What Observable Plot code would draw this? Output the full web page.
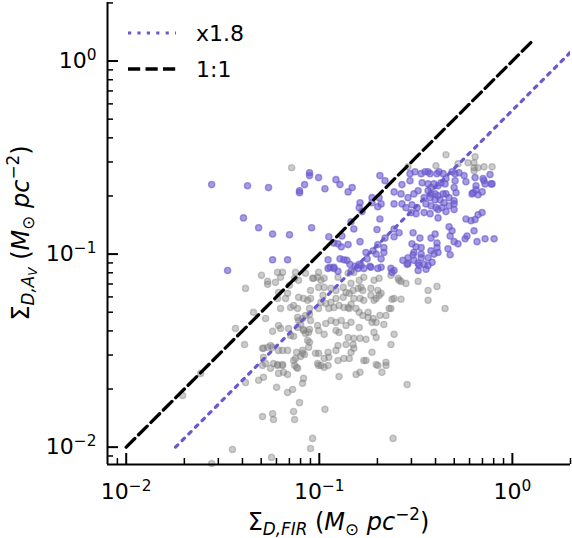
<!DOCTYPE html>
<html><head><meta charset="utf-8">
<script src="https://cdn.jsdelivr.net/npm/d3@7"></script>
<script src="https://cdn.jsdelivr.net/npm/@observablehq/plot@0.6"></script>
<style>html,body{margin:0;padding:0;background:#fff;} #chart{width:572px;height:538px;}</style>
</head><body><div id="chart"></div>
<script>
// ---- data ----
const grayFIR = [0.0719,0.288,0.402,0.453,0.523,0.589,0.633,0.641,0.633,0.664,0.713,0.785,0.633,
0.0502,0.0540,0.0540,0.0608,0.0645,0.0630,0.0593,0.0753,0.0745,0.0701,0.0415,0.0615,0.0608,0.0669,0.0685,0.0781,0.0829,0.0901,0.0923,0.0980,0.0992,0.0901,0.0781,0.0849,0.0992,0.0934,
0.0772,0.0736,0.0710,0.0870,0.0890,0.0992,0.102,0.0630,0.0456,0.0527,0.0772,0.0781,0.0819,0.0849,0.0890,0.0901,0.0980,0.0992,0.0772,0.0800,0.0829,0.0890,0.0615,0.0630,0.0573,0.0693,0.0710,0.0736,0.0849,0.0870,0.0368,0.0410,0.0514,0.0559,0.0573,0.0615,0.0645,0.0685,0.0763,0.0839,0.0890,0.0880,0.0514,0.0608,0.0645,0.0736,0.0745,0.0980,0.0508,0.0540,0.0753,0.0772,0.0800,0.0819,0.0880,0.0992,0.102,0.0819,0.0956,0.0829,0.0579,0.0559,0.0527,
0.0196,0.0243,0.0355,0.0277,0.0415,0.0485,0.0514,0.0508,0.0608,0.0645,0.0763,0.0615,0.0653,0.0685,0.0601,0.0685,0.0727,0.0819,0.0829,0.0790,0.0508,0.0573,0.0579,0.0736,0.0745,0.107,0.0923,0.0901,0.0566,0.0992,0.106,0.1265,0.155,0.1625,0.201,0.211,0.2215,0.285,0.241,
0.102,0.106,0.125,0.141,0.151,0.170,0.192,0.204,0.235,0.256,0.265,0.281,0.325,0.407,0.106,0.115,0.1045,0.122,0.133,0.1375,0.143,0.1495,0.159,0.1645,0.185,0.201,0.204,0.185,0.192,0.197,0.1625,0.151,0.170,0.238,0.265,0.366,0.235,0.448,0.122,0.115,0.108,0.112,0.119,0.1265,0.134,0.143,0.146,0.155,0.161,0.168,0.179,0.190,0.197,0.206,0.216,0.1875,0.161,0.146,0.1375,0.130,0.122,0.115,0.108,0.106,0.122,0.1265,0.141,0.151,0.1625,0.1745,0.192,0.197,0.244,0.1375,0.1495,0.151,0.146,0.125,0.122,0.111,0.1875,0.170,0.125,0.134,0.106,0.111,0.197,0.2215,0.235,0.168,0.209,0.259,0.366,0.146,0.161,0.133,0.141,0.179,0.2215,0.230,0.244,0.112,0.143,0.1745];
const grayAv = [0.280,0.283,0.287,0.327,0.294,0.297,0.297,0.319,0.280,0.280,0.283,0.283,0.270,
0.0776,0.0722,0.0697,0.0804,0.0804,0.0758,0.0714,0.0804,0.0749,0.0689,0.0664,0.0633,0.0589,0.0589,0.0626,0.0597,0.0589,0.0648,0.0749,0.0758,0.0672,0.0589,0.0731,0.0795,0.0804,0.0749,
0.0523,0.0542,0.0529,0.0576,0.0523,0.0523,0.0562,0.0523,0.0499,0.0464,0.0470,0.0453,0.0464,0.0481,0.0487,0.0453,0.0427,0.0402,0.0417,0.0432,0.0407,0.0407,0.0427,0.0412,0.0398,0.0412,0.0379,0.0375,0.0388,0.0357,0.0412,0.0340,0.0325,0.0336,0.0329,0.0317,0.0317,0.0317,0.0310,0.0302,0.0349,0.0329,0.0292,0.0268,0.0268,0.0281,0.0265,0.0271,0.0325,0.0329,0.0288,0.0256,0.0295,0.0317,0.0393,0.0306,0.0265,0.0306,0.0306,0.0402,0.0271,0.0256,0.0271,
0.0185,0.0241,0.00973,0.00823,0.0216,0.0222,0.0230,0.0265,0.0265,0.0265,0.0259,0.0241,0.0244,0.0238,0.0204,0.0192,0.0199,0.0214,0.0227,0.0170,0.0144,0.0149,0.0139,0.0153,0.0139,0.0157,0.0111,0.00984,0.00885,0.0265,0.0259,0.0232,0.0238,0.0244,0.0265,0.0244,0.0265,0.0211,0.0111,
0.0731,0.0749,0.0758,0.0795,0.0804,0.0758,0.0731,0.0749,0.0776,0.0749,0.0722,0.0705,0.0722,0.0680,0.0672,0.0664,0.0611,0.0648,0.0672,0.0633,0.0626,0.0648,0.0664,0.0672,0.0664,0.0648,0.0611,0.0611,0.0576,0.0589,0.0589,0.0589,0.0576,0.0583,0.0583,0.0576,0.0523,0.0523,0.0589,0.0562,0.0555,0.0523,0.0529,0.0542,0.0529,0.0523,0.0549,0.0523,0.0499,0.0481,0.0470,0.0464,0.0443,0.0481,0.0432,0.0443,0.0417,0.0443,0.0427,0.0453,0.0443,0.0453,0.0437,0.0384,0.0402,0.0393,0.0370,0.0366,0.0366,0.0362,0.0393,0.0370,0.0384,0.0340,0.0340,0.0325,0.0310,0.0336,0.0317,0.0310,0.0310,0.0281,0.0281,0.0288,0.0288,0.0265,0.0268,0.0275,0.0340,0.0648,0.0626,0.0731,0.0648,0.0705,0.0731,0.0597,0.0529,0.0499,0.0481,0.0523,0.0589,0.0292,0.0288,0.0281];

const purpleFIR = [0.0277,0.0425,0.0546,0.0890,0.0890,0.0992,0.0839,0.0790,0.0790,0.107,0.122,0.128,0.141,0.0405,0.0485,0.0573,0.0701,0.0912,0.112,0.131,0.119,0.125,0.130,0.141,0.0573,0.0685,0.111,0.128,0.111,0.1135,0.119,0.125,0.144,0.0335,
0.148,0.206,0.219,0.295,0.295,0.337,0.366,0.375,0.417,0.438,0.453,0.505,0.505,0.562,0.641,0.705,0.722,0.776,0.648,0.618,0.664,0.697,0.575,0.341,0.366,0.379,0.393,0.412,0.427,0.448,0.366,0.379,0.398,0.412,0.438,0.453,0.470,0.499,0.511,0.499,0.349,0.375,0.398,0.422,0.443,0.357,0.379,0.402,0.432,0.470,0.499,0.325,0.309,0.268,0.244,0.265,0.288,0.268,0.244,0.281,0.302,0.321,0.299,0.317,0.349,0.375,0.412,0.453,0.412,0.499,
0.1875,0.1875,0.204,0.201,0.209,0.1625,0.161,0.1665,0.146,0.151,0.206,0.244,0.259,0.306,0.332,0.337,0.309,0.302,0.379,0.398,0.407,0.407,0.379,0.366,0.337,0.325,0.366,0.393,0.309,0.288,0.271,0.1625,0.1745,0.190,0.177,0.197,0.209,0.183,0.1645,0.139,
0.575,0.611,0.664,0.697,0.641,0.470,0.487,0.476,0.499,0.523,0.569,0.582,0.633,0.656,0.722,0.804,0.209,0.235,0.199,0.201,0.216,0.219,0.244,0.476,0.464,0.317,0.337,0.288,0.329,0.349,0.325,0.357,0.244,0.238,0.146,0.153,0.134,0.313,0.766,0.159,0.170,0.201,0.216,0.353,0.407,0.487,0.529,0.713,0.626,0.648,0.785,0.285,0.384,0.412,0.306,0.161,0.185,0.119];
const purpleAv = [0.229,0.226,0.221,0.264,0.255,0.249,0.229,0.213,0.208,0.218,0.243,0.229,0.210,0.154,0.137,0.127,0.126,0.137,0.123,0.124,0.114,0.113,0.109,0.112,0.0934,0.0934,0.0934,0.0945,0.0843,0.0854,0.0854,0.0814,0.0885,0.0823,
0.221,0.255,0.240,0.261,0.240,0.261,0.267,0.261,0.267,0.261,0.246,0.261,0.240,0.255,0.249,0.246,0.231,0.231,0.226,0.205,0.203,0.210,0.237,0.234,0.231,0.221,0.231,0.226,0.234,0.231,0.213,0.205,0.205,0.2005,0.205,0.205,0.196,0.221,0.208,0.189,0.196,0.196,0.191,0.191,0.1845,0.182,0.178,0.174,0.174,0.178,0.182,0.213,0.205,0.229,0.210,0.205,0.196,0.182,0.182,0.174,0.180,0.174,0.164,0.162,0.164,0.162,0.170,0.166,0.154,0.170,
0.196,0.1845,0.196,0.176,0.182,0.1845,0.174,0.166,0.147,0.135,0.152,0.135,0.129,0.129,0.121,0.108,0.102,0.113,0.121,0.127,0.114,0.108,0.104,0.0957,0.0957,0.0895,0.0874,0.100,0.0928,0.0957,0.0928,0.116,0.102,0.104,0.0945,0.100,0.0945,0.0864,0.0874,0.0928,
0.152,0.149,0.160,0.164,0.151,0.1385,0.132,0.124,0.116,0.113,0.120,0.124,0.132,0.116,0.120,0.120,0.0854,0.0843,0.134,0.112,0.108,0.121,0.123,0.0992,0.1065,0.109,0.100,0.0895,0.0874,0.0885,0.0823,0.0834,0.0823,0.0804,0.0814,0.0864,0.0934,0.267,0.258,0.0843,0.0843,0.0843,0.102,0.267,0.261,0.267,0.264,0.240,0.208,0.215,0.231,0.0885,0.0906,0.102,0.0992,0.0885,0.0854,0.0843];

// reference lines: 1:1 and x1.8 (x = 1.8 * y)
const lineAv = [0.01, 1.25];
const oneToOneFIR = [0.01, 1.25];
const scaledFIR = [0.018, 2.25];

const xDomain = [0.0080, 2.0];
const yDomain = [0.00813, 2.01];
const majorTicks = [0.01, 0.1, 1];
const minorTicksX = [0.009,0.02,0.03,0.04,0.05,0.06,0.07,0.08,0.09,0.2,0.3,0.4,0.5,0.6,0.7,0.8,0.9,2];
const minorTicksY = [0.009,0.02,0.03,0.04,0.05,0.06,0.07,0.08,0.09,0.2,0.3,0.4,0.5,0.6,0.7,0.8,0.9,2];
const legendLabels = ["x1.8", "1:1"];

const PURPLE = "#6A5ACD";
const GRAY = "#808080";

const gray = grayFIR.map((x, i) => ({x, y: grayAv[i]}));
const purple = purpleFIR.map((x, i) => ({x, y: purpleAv[i]}));
const oneToOne = lineAv.map((y, i) => ({x: oneToOneFIR[i], y}));
const scaled = lineAv.map((y, i) => ({x: scaledFIR[i], y}));

const fmt = d => "10^" + Math.round(Math.log10(d));
const FS = 22;      // tick labels / legend
const TFS = 24;     // axis titles
const DOTTED = "3.2,6.2";
const DASHED = "12.2,5.3";

const W = 572, H = 538, ML = 107, MR = 2, MT = 2, MB = 74;

const svg = Plot.plot({
  width: W, height: H,
  marginLeft: ML, marginRight: MR, marginTop: MT, marginBottom: MB,
  x: {type: "log", domain: xDomain, axis: null, label: null},
  y: {type: "log", domain: yDomain, axis: null, label: null},
  style: {fontFamily: "DejaVu Sans", fontSize: FS + "px", background: "white", color: "black", overflow: "visible"},
  marks: [
    Plot.dot(gray, {x: "x", y: "y", r: 3.1, fill: GRAY, fillOpacity: 0.4, stroke: GRAY, strokeOpacity: 0.4, strokeWidth: 1.39}),
    Plot.dot(purple, {x: "x", y: "y", r: 3.1, fill: PURPLE, fillOpacity: 0.6, stroke: PURPLE, strokeOpacity: 0.6, strokeWidth: 1.39}),
    Plot.line(oneToOne, {x: "x", y: "y", stroke: "black", strokeWidth: 3.3, strokeDasharray: DASHED, clip: true}),
    Plot.line(scaled, {x: "x", y: "y", stroke: PURPLE, strokeWidth: 3.2, strokeDasharray: DOTTED, clip: true}),
    Plot.ruleX([xDomain[0]], {stroke: "black", strokeWidth: 2}),
    Plot.ruleY([yDomain[0]], {stroke: "black", strokeWidth: 2}),
    Plot.axisX({ticks: majorTicks, anchor: "bottom", tickSize: -11, strokeWidth: 2, stroke: "black", fill: "none", label: null}),
    Plot.axisX({ticks: minorTicksX, anchor: "bottom", tickSize: -6, strokeWidth: 1.5, stroke: "black", fill: "none", label: null}),
    Plot.axisX({ticks: majorTicks, anchor: "bottom", tickSize: 0, tickPadding: 19, tickFormat: fmt, fontSize: FS, fill: "black", label: null}),
    Plot.axisY({ticks: majorTicks, anchor: "left", tickSize: -11, strokeWidth: 2, stroke: "black", fill: "none", label: null}),
    Plot.axisY({ticks: minorTicksY, anchor: "left", tickSize: -6, strokeWidth: 1.5, stroke: "black", fill: "none", label: null}),
    Plot.axisY({ticks: majorTicks, anchor: "left", tickSize: 0, tickPadding: 11, tickFormat: fmt, fontSize: FS, fill: "black", label: null})
  ]
});

document.getElementById("chart").appendChild(svg);

const NS = "http://www.w3.org/2000/svg";
// superscript exponents on tick labels
svg.querySelectorAll("text").forEach(t => {
  const m = (t.textContent || "").match(/^10\^(-?\d+)$/);
  if (m) {
    t.textContent = "10";
    const ts = document.createElementNS(NS, "tspan");
    ts.setAttribute("dy", "-8");
    ts.setAttribute("font-size", String(FS * 0.7));
    ts.textContent = m[1].replace("-", "\u2212");
    t.appendChild(ts);
  }
});

const root = d3.select(svg);
const SUB = TFS * 0.7;
function addRich(g, parts) {
  parts.forEach(p => {
    const ts = g.append("tspan").text(p.t);
    if (p.i) ts.attr("font-style", "italic");
    if (p.s) ts.attr("font-size", p.s);
    if (p.dy) ts.attr("dy", p.dy);
  });
}
// x title
const cx = ML + (W - ML - MR) / 2;
const xt = root.append("text").attr("x", cx).attr("y", 530).attr("text-anchor", "middle")
  .attr("font-family", "DejaVu Sans").attr("font-size", TFS).attr("fill", "black");
addRich(xt, [
  {t: "\u03A3"}, {t: "D,FIR", i: true, s: SUB, dy: 5}, {t: " (", dy: -5},
  {t: "M", i: true}, {t: "\u2299", s: SUB, dy: 5}, {t: " ", dy: -5},
  {t: "pc", i: true}, {t: "\u2212" + "2", s: SUB, dy: -10}, {t: ")", dy: 10}
]);
// y title
const cy = MT + (H - MT - MB) / 2;
const yt = root.append("text").attr("transform", `translate(29,${cy}) rotate(-90)`).attr("text-anchor", "middle")
  .attr("font-family", "DejaVu Sans").attr("font-size", TFS).attr("fill", "black");
addRich(yt, [
  {t: "\u03A3"}, {t: "D,A", i: true, s: SUB, dy: 5}, {t: "V", i: true, s: TFS * 0.5, dy: 3},
  {t: " (", dy: -8},
  {t: "M", i: true}, {t: "\u2299", s: SUB, dy: 5}, {t: " ", dy: -5},
  {t: "pc", i: true}, {t: "\u2212" + "2", s: SUB, dy: -10}, {t: ")", dy: 10}
]);

// legend (no frame)
const lg = root.append("g").attr("font-family", "DejaVu Sans").attr("font-size", FS).attr("text-anchor", "start");
const legendStyles = [
  {stroke: PURPLE, width: 3.2, dash: DOTTED, y: 33},
  {stroke: "black", width: 3.3, dash: DASHED, y: 69}
];
legendLabels.forEach((lab, i) => {
  const s = legendStyles[i];
  lg.append("line").attr("x1", 128).attr("x2", 176).attr("y1", s.y).attr("y2", s.y)
    .attr("stroke", s.stroke).attr("stroke-width", s.width).attr("stroke-dasharray", s.dash);
  lg.append("text").attr("x", 196).attr("y", s.y).attr("dy", "0.36em").attr("text-anchor", "start").attr("fill", "black").text(lab);
});
</script>
</body></html>
